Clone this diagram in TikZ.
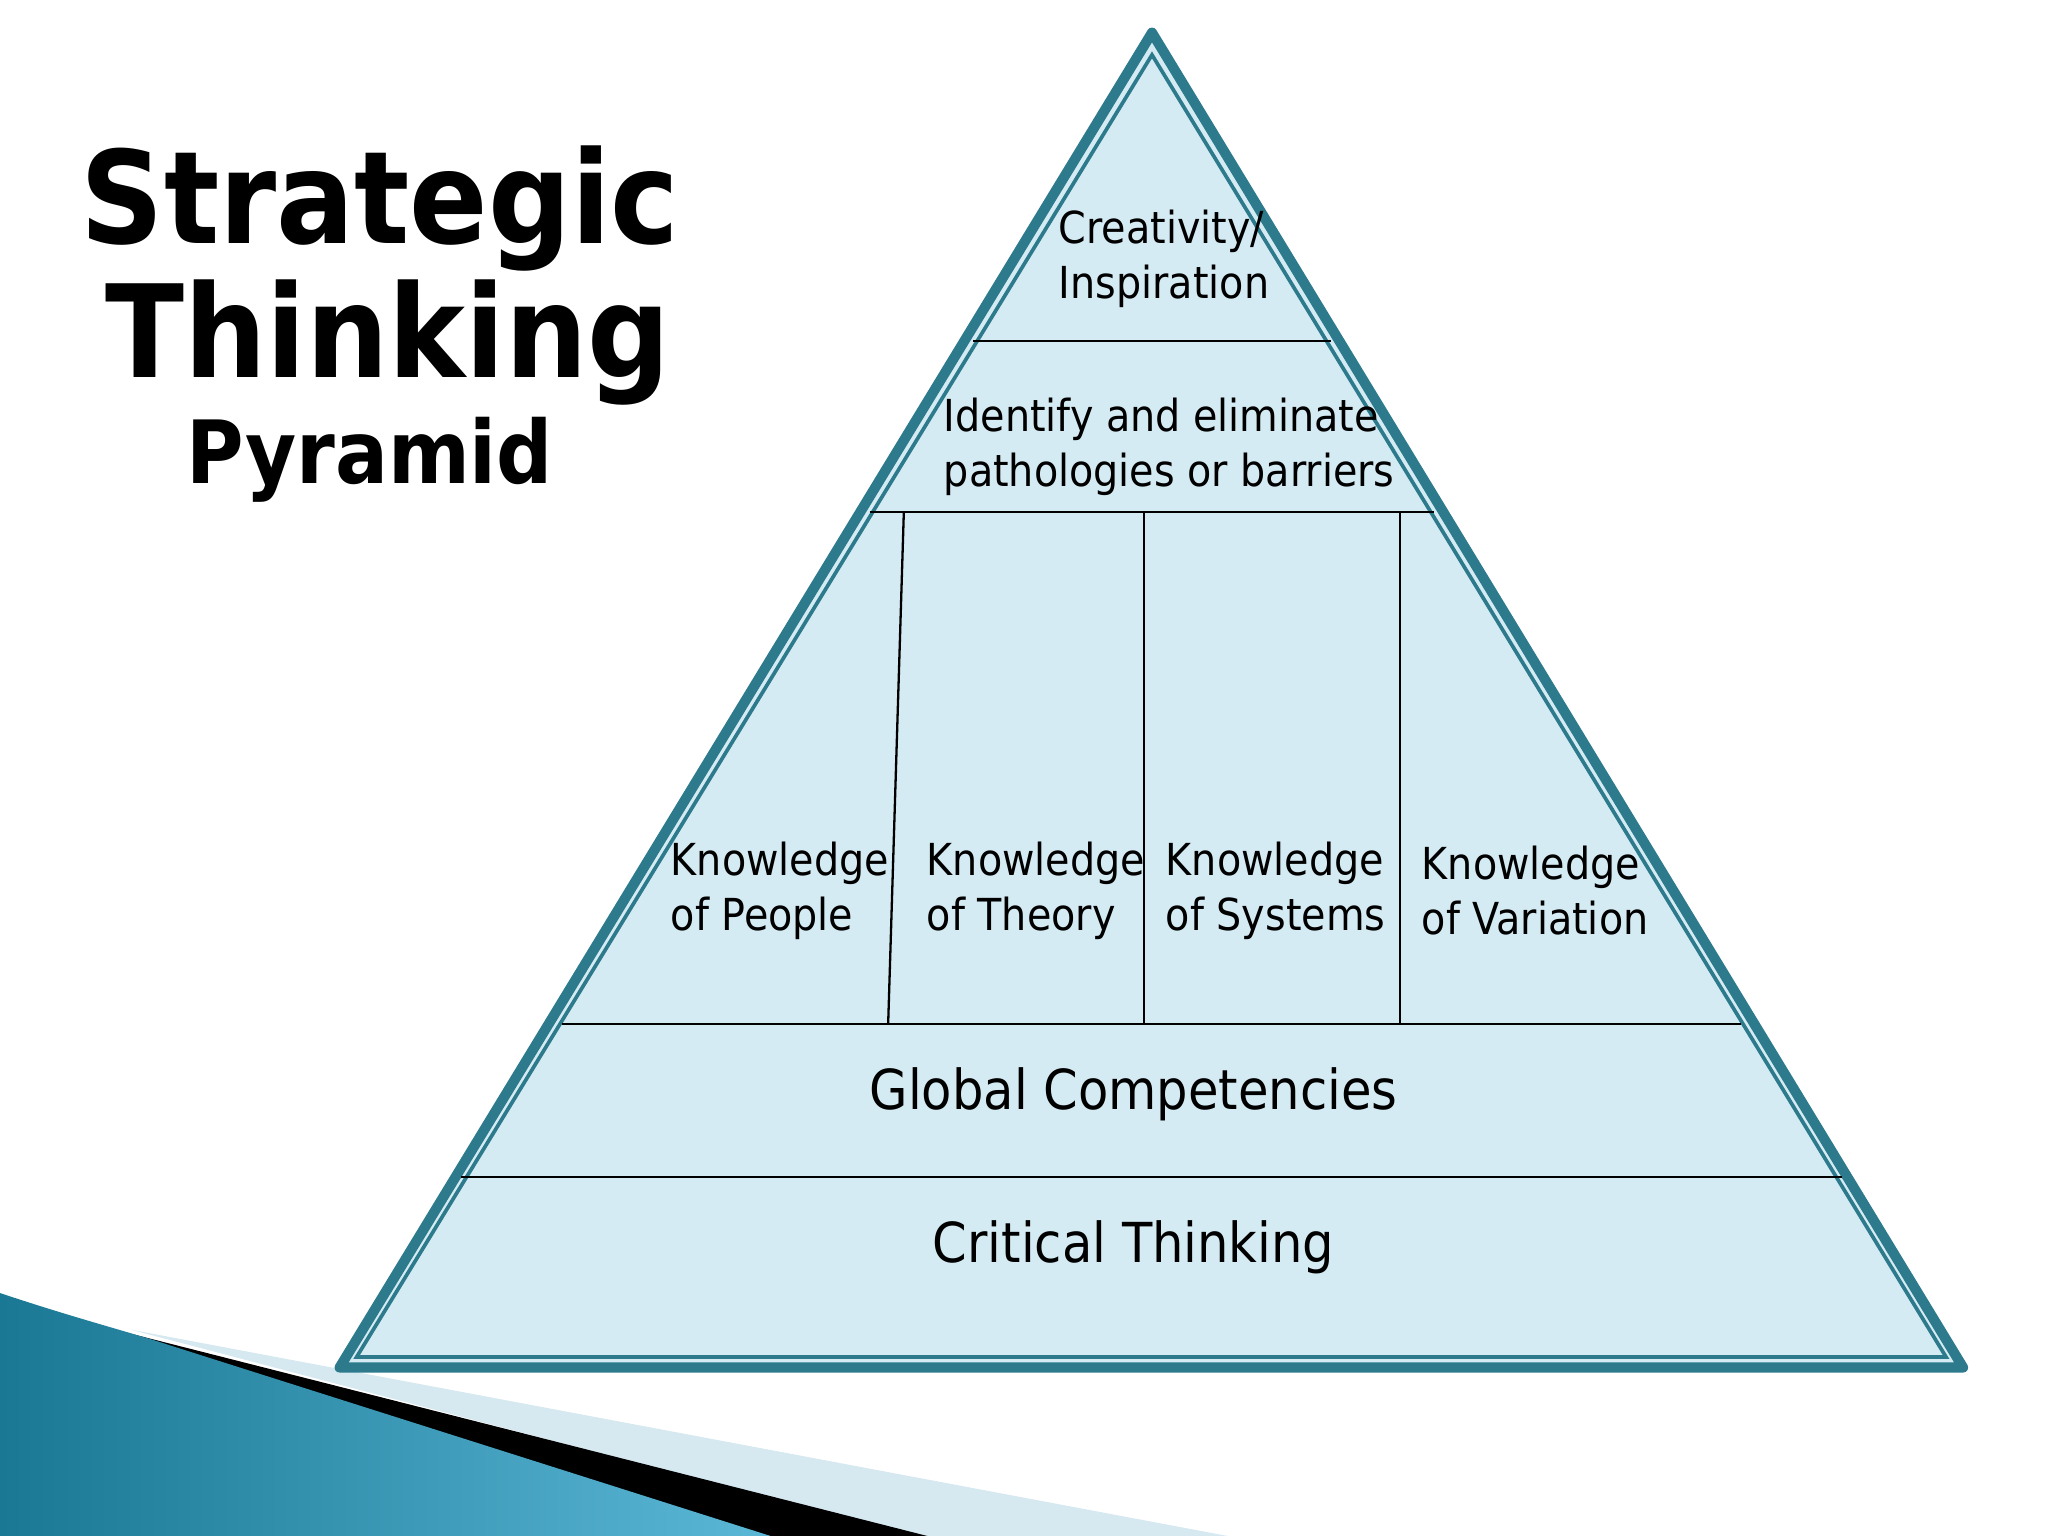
\documentclass[tikz,border=0pt]{standalone}
\usepackage{fontspec}
\setmainfont{DejaVu Sans Condensed}
\definecolor{teal1}{HTML}{2C7A8C}
\definecolor{pfill}{HTML}{D5EBF3}
\definecolor{sw1}{HTML}{1A7894}
\definecolor{sw2}{HTML}{5BB7D6}
\definecolor{sw3}{HTML}{D6E8F0}
\begin{document}
\begin{tikzpicture}[x=0.01cm,y=-0.01cm,
  lbl/.style={font=\fontsize{9.6}{12}\selectfont, align=left, anchor=west, inner sep=0pt},
  big/.style={font=\fontsize{12}{14}\selectfont, inner sep=0pt},
  div/.style={line width=0.5pt, black}]
\useasboundingbox (0,0) rectangle (1568,1176);
% swoosh
\fill[sw3] (100,1018) -- (940,1176) -- (700,1176) -- cycle;
\fill[black] (80,1016) -- (710,1176) -- (585,1176) -- cycle;
\shade[left color=sw1, right color=sw2] (0,990) .. controls (60,1010) and (100,1020) .. (130,1030) -- (590,1176) -- (0,1176) -- cycle;
% pyramid
\coordinate (A) at (882,25);
\coordinate (B) at (260,1047);
\coordinate (C) at (1503,1047);
\draw[teal1, line width=2.2pt, fill=pfill, line join=round] (A) -- (B) -- (C) -- cycle;
\draw[teal1, line width=0.8pt] (882,42) -- (273,1039) -- (1490,1039) -- cycle;
% dividers
\draw[div] (745,261) -- (1019,261);
\draw[div] (666,392) -- (1098,392);
\draw[div] (430,784) -- (1333,784);
\draw[div] (353,901) -- (1410,901);
\draw[div] (692,392) -- (680,784);
\draw[div] (876,392) -- (876,784);
\draw[div] (1072,392) -- (1072,784);
% texts
\node[lbl] (t1) at (810,198) {Creativity/\\Inspiration};
\node[lbl] (t2) at (722,342) {Identify and eliminate\\pathologies or barriers};
\node[lbl] (k1) at (513,682) {Knowledge\\of People};
\node[lbl] (k2) at (709,682) {Knowledge\\of Theory};
\node[lbl] (k3) at (892,682) {Knowledge\\of Systems};
\node[lbl] (k4) at (1088,682) {Knowledge\\of Variation};
\node[big] (g) at (868,838) {Global Competencies};
\node[big] (c) at (868,955) {Critical Thinking};
% title
\node[font=\fontsize{28}{30}\selectfont\bfseries, inner sep=0pt] (s1) at (291,160) {Strategic};
\node[font=\fontsize{28}{30}\selectfont\bfseries, inner sep=0pt] (s2) at (297,262) {Thinking};
\node[font=\fontsize{19}{22}\selectfont\bfseries, inner sep=0pt] (s3) at (283,352) {Pyramid};
\end{tikzpicture}
\end{document}
